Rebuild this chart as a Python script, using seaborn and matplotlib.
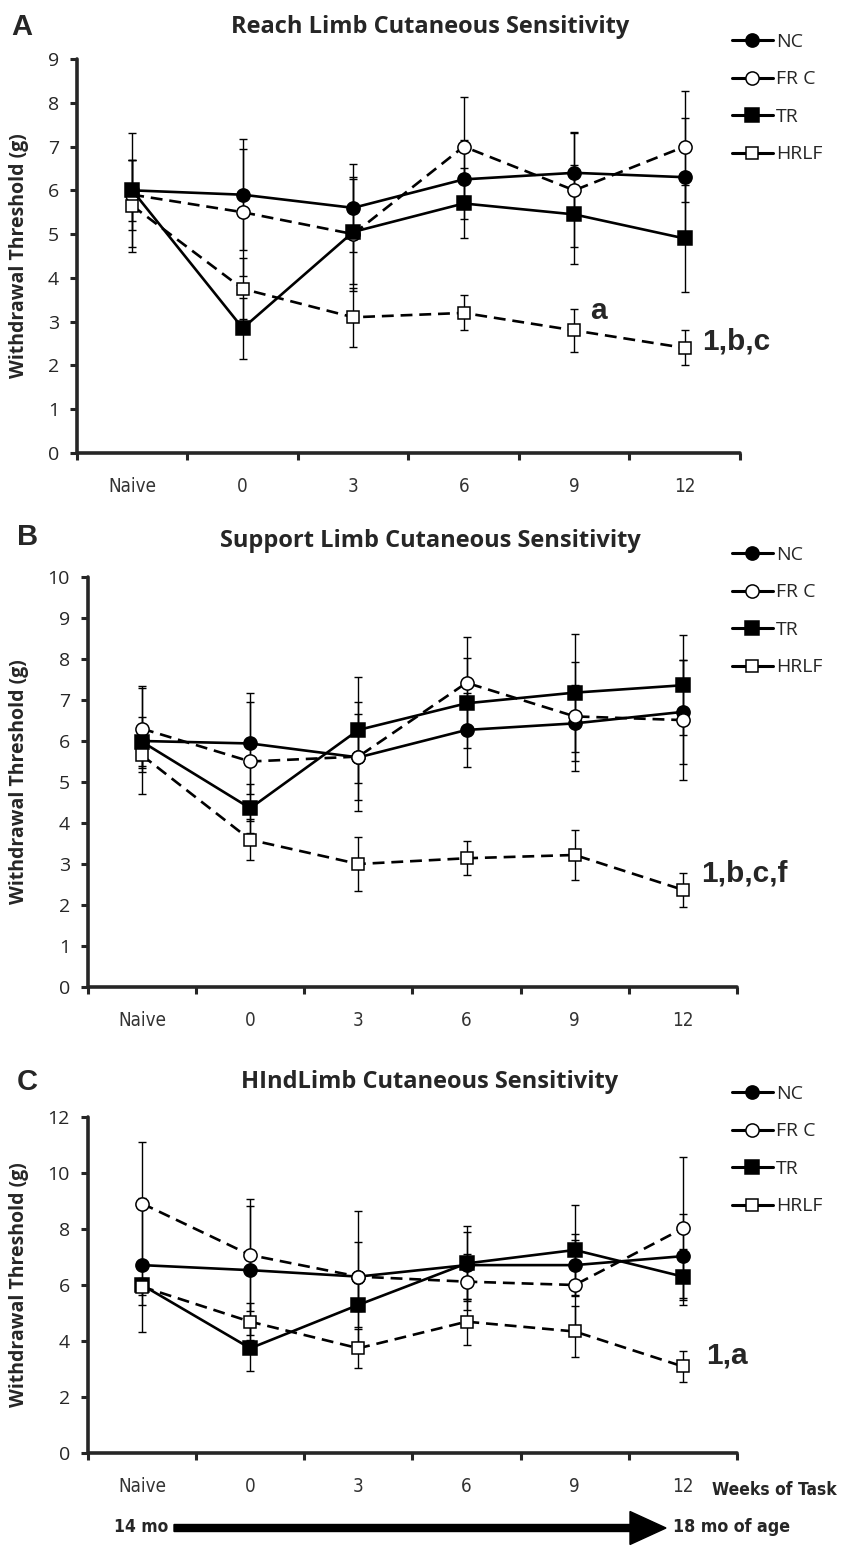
import numpy as np
import pandas as pd
import matplotlib
matplotlib.use("Agg")
import matplotlib.pyplot as plt
import seaborn as sns
from matplotlib import font_manager
from matplotlib.font_manager import FontProperties
from matplotlib.patches import FancyArrow

# x categories and groups
weeks = ['Naive', '0', '3', '6', '9', '12']
groups = ['NC', 'FR C', 'TR', 'HRLF']

# A: reach limb (mean, sem)
reach_mean = {'NC': [6.0, 5.9, 5.6, 6.25, 6.4, 6.3],
              'FR C': [5.9, 5.5, 5.0, 7.0, 6.0, 7.0],
              'TR': [6.0, 2.85, 5.05, 5.7, 5.45, 4.9],
              'HRLF': [5.65, 3.75, 3.1, 3.2, 2.8, 2.4]}
reach_sem = {'NC': [1.3, 1.27, 1.0, 0.9, 0.93, 1.35],
             'FR C': [0.8, 1.45, 1.3, 1.13, 1.3, 1.27],
             'TR': [0.7, 0.7, 1.2, 0.8, 1.13, 1.23],
             'HRLF': [1.05, 0.7, 0.68, 0.4, 0.5, 0.4]}

# B: support limb
support_mean = {'NC': [6.0, 5.94, 5.6, 6.27, 6.43, 6.71],
                'FR C': [6.3, 5.5, 5.62, 7.42, 6.6, 6.51],
                'TR': [5.98, 4.36, 6.27, 6.92, 7.18, 7.36],
                'HRLF': [5.65, 3.59, 3.0, 3.14, 3.22, 2.37]}
support_sem = {'NC': [1.3, 1.23, 1.05, 0.9, 0.93, 1.26],
               'FR C': [1.05, 1.45, 1.33, 1.12, 1.33, 1.46],
               'TR': [0.6, 0.6, 1.3, 1.1, 1.44, 1.22],
               'HRLF': [0.3, 0.5, 0.67, 0.42, 0.6, 0.42]}

# C: hindlimb
hind_mean = {'NC': [6.71, 6.53, 6.3, 6.71, 6.71, 7.03],
             'FR C': [8.91, 7.07, 6.3, 6.12, 6.0, 8.02],
             'TR': [6.0, 3.74, 5.29, 6.77, 7.25, 6.3],
             'HRLF': [5.94, 4.69, 3.74, 4.69, 4.34, 3.09]}
hind_sem = {'NC': [2.4, 2.3, 1.24, 1.2, 1.1, 1.5],
            'FR C': [2.2, 2.0, 2.35, 1.0, 1.6, 2.55],
            'TR': [0.7, 0.8, 0.78, 1.34, 1.6, 1.0],
            'HRLF': [0.3, 0.66, 0.7, 0.82, 0.9, 0.56]}

sns.set_style('ticks')
plt.rcParams['font.family'] = ['Open Sans', 'DejaVu Sans']


# look for a narrow / condensed sans font for the tick labels, else fall back
def narrow_font(bold):
    for f in font_manager.fontManager.ttflist:
        cond = ('Narrow' in f.name or 'Condensed' in f.name
                or f.stretch in ('condensed', 'semi-condensed'))
        isbold = f.weight in ('bold', 700, 'heavy') or (isinstance(f.weight, int) and f.weight >= 600)
        if cond and isbold == bold and f.style == 'normal' and 'Mono' not in f.name \
                and 'Serif' not in f.name:
            return f.fname
    return None


nar_reg = narrow_font(False)
nar_bold = narrow_font(True)


def tickfont(size):
    if nar_reg:
        return FontProperties(fname=nar_reg, size=size)
    return FontProperties(family='Liberation Sans', size=size * 0.85)


def boldnarrow(size):
    if nar_bold:
        return FontProperties(fname=nar_bold, size=size)
    return FontProperties(family='Liberation Sans', weight='bold', size=size * 0.95)


W, H = 845, 1552
fig = plt.figure(figsize=(W / 100, H / 100), dpi=100)


def fx(x):
    return x / W


def fy(y):
    return 1 - y / H


looks = {'NC': dict(marker='o', mfc='black', ls='-', ms=9.5),
         'FR C': dict(marker='o', mfc='white', ls=(0, (4.5, 2.6)), ms=9.5),
         'TR': dict(marker='s', mfc='black', ls='-', ms=9.5),
         'HRLF': dict(marker='s', mfc='white', ls=(0, (4.5, 2.6)), ms=9)}


def panel(box, mean, sem, ymax, ystep, title, title_y, letter, letter_xy,
          note, note_xy, leg_y):
    left, top, right, bottom = box
    ax = fig.add_axes([fx(left), fy(bottom), fx(right) - fx(left), fy(top) - fy(bottom)])
    pos = np.arange(len(weeks))
    for g in groups:
        d = pd.DataFrame({'pos': pos, 'val': mean[g]})
        lk = looks[g]
        ax.errorbar(pos, mean[g], yerr=sem[g], fmt='none', ecolor='black',
                    elinewidth=1.0, capsize=2.6, capthick=1.0, zorder=2)
        sns.lineplot(data=d, x='pos', y='val', ax=ax, color='black', linewidth=1.9,
                     linestyle=lk['ls'], marker=lk['marker'], markersize=lk['ms'],
                     markerfacecolor=lk['mfc'], markeredgecolor='black',
                     markeredgewidth=1.1, label=g, zorder=3)

    ax.set_xlim(-0.5, 5.5)
    ax.set_ylim(0, ymax)
    ax.set_yticks(np.arange(0, ymax + 0.1, ystep))
    ax.set_xticks(np.arange(-0.5, 6, 1))
    ax.set_xticklabels([])
    ax.set_xticks(pos, minor=True)
    ax.set_xticklabels(weeks, minor=True, fontproperties=tickfont(13.5), color='#333333')
    ax.tick_params(axis='x', which='minor', length=0, pad=17)
    ax.tick_params(axis='x', which='major', length=5, width=2.2, direction='out')
    ax.tick_params(axis='y', length=5, width=2.2, direction='out', labelsize=14, pad=8)
    sns.despine(ax=ax)
    for s in ['left', 'bottom']:
        ax.spines[s].set_linewidth(2.6)
        ax.spines[s].set_capstyle('round')
    ax.set_xlabel('')
    ax.set_ylabel('Withdrawal Threshold (g)', fontsize=14, fontweight='bold')
    ax.yaxis.set_label_coords((29 - left) / (right - left), 0.5)

    if note:
        ax.text(note_xy[0], note_xy[1], note, family='Liberation Sans', fontweight='bold',
                fontsize=21.5, va='center', ha='left')

    leg = ax.legend(loc='upper left', bbox_to_anchor=(fx(732), fy(leg_y)),
                    bbox_transform=fig.transFigure, frameon=False, fontsize=14,
                    handlelength=2.1, handletextpad=0.15, labelspacing=1.0,
                    borderpad=0, borderaxespad=0)
    for ln in leg.get_lines():
        ln.set_linestyle('-')
        ln.set_linewidth(2.2)

    fig.text(fx(430), fy(title_y), title, ha='center', va='baseline',
             fontsize=17, fontweight='bold')
    fig.text(fx(letter_xy[0]), fy(letter_xy[1]), letter, ha='left', va='baseline',
             family='Liberation Sans', fontsize=21, fontweight='bold')
    return ax


axA = panel((77, 59, 740, 453), reach_mean, reach_sem, 9, 1,
            'Reach Limb Cutaneous Sensitivity', 33, 'A', (11, 35),
            '1,b,c', (5.16, 2.55), 33)
axA.text(4.14, 3.25, 'a', family='Liberation Sans', fontweight='bold', fontsize=21.5,
         va='center', ha='left')

panel((88, 577, 737, 987), support_mean, support_sem, 10, 1,
      'Support Limb Cutaneous Sensitivity', 547, 'B', (17, 545),
      '1,b,c,f', (5.17, 2.78), 546)

panel((88, 1117, 737, 1453), hind_mean, hind_sem, 12, 2,
      'HIndLimb Cutaneous Sensitivity', 1088, 'C', (17, 1090),
      '1,a', (5.21, 3.5), 1085)

# bottom annotations
fig.text(fx(712), fy(1490), 'Weeks of Task', fontproperties=boldnarrow(12.5),
         ha='left', va='center')
fig.text(fx(168), fy(1527), '14 mo', fontproperties=boldnarrow(12.5),
         ha='right', va='center')
fig.text(fx(673), fy(1527), '18 mo of age', fontproperties=boldnarrow(12.8),
         ha='left', va='center')
arrow = FancyArrow(1.74, (H - 1528) / 100, 4.92, 0, width=0.07, head_width=0.33,
                   head_length=0.36, length_includes_head=True, color='black',
                   transform=fig.dpi_scale_trans)
fig.add_artist(arrow)

fig.savefig('out.png', dpi=100, facecolor='white')
